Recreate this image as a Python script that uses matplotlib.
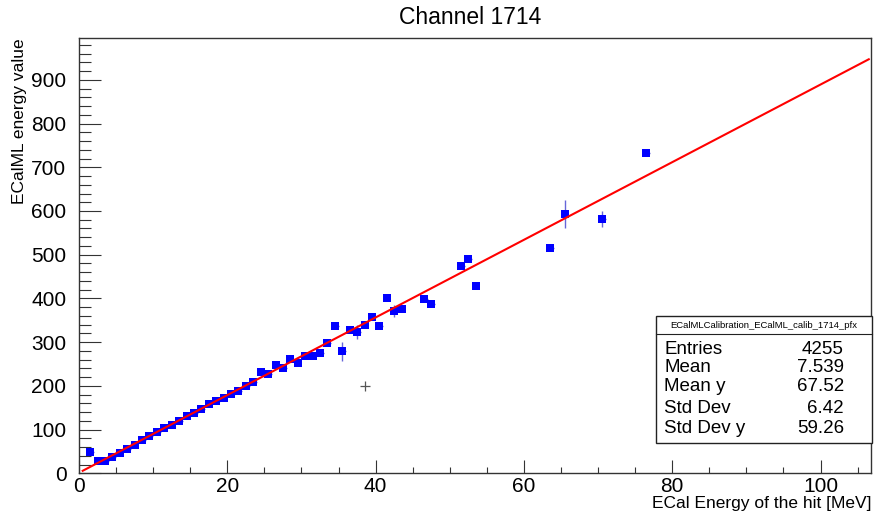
import matplotlib.pyplot as plt
import numpy as np
from matplotlib.patches import Rectangle
from matplotlib.ticker import MultipleLocator

plt.rcParams['font.family'] = ['Liberation Sans', 'DejaVu Sans']

# Profile bin centres, mean y and error on the mean
bin_x = [1.5, 2.5, 3.5, 4.5, 5.5, 6.5, 7.5, 8.5, 9.5, 10.5, 11.5, 12.5, 13.5,
         14.5, 15.5, 16.5, 17.5, 18.5, 19.5, 20.5, 21.5, 22.5, 23.5, 24.5,
         25.5, 26.5, 27.5, 28.5, 29.5, 30.5, 31.5, 32.5, 33.5, 34.5, 35.5,
         36.5, 37.5, 38.5, 39.5, 40.5, 41.5, 42.5, 43.5, 46.5, 47.5, 51.5,
         52.5, 53.5, 63.5, 65.5, 70.5, 76.5]
mean_y = [48.7, 27.5, 28.8, 38.0, 47.1, 55.6, 64.8, 76.2, 85.4, 94.5, 104.3,
          110.5, 119.7, 130.4, 136.8, 147.1, 157.9, 165.4, 171.6, 181.0, 189.0,
          200.5, 208.5, 231.1, 227.2, 247.1, 240.3, 260.9, 253.1, 267.7, 267.7,
          274.6, 297.5, 335.9, 279.2, 327.5, 323.3, 338.7, 357.7, 337.1, 400.5,
          371.4, 376.0, 398.9, 388.1, 474.4, 491.1, 428.6, 516.0, 594.0, 582.0,
          733.6]
err_y = [2.0, 1.5, 1.5, 1.5, 1.5, 1.5, 1.5, 1.5, 1.5, 1.5, 1.5, 1.5, 1.5,
         1.5, 1.5, 2.0, 2.0, 2.0, 2.0, 2.0, 2.0, 2.0, 2.5, 3.0, 3.0, 3.0, 3.0,
         3.5, 3.5, 4.0, 4.0, 4.0, 4.5, 4.5, 21.7, 5.0, 17.0, 5.0, 5.0, 5.0,
         5.0, 14.0, 5.0, 5.0, 5.0, 5.0, 5.0, 5.0, 5.0, 32.0, 18.0, 5.0]
bin_half_width = 0.5

# Linear fit y = p0 + p1 * x
fit_p0 = 1.3
fit_p1 = 8.88
fit_range = [0.5, 106.5]

# Lone marker
cross_x = 38.5
cross_y = 200

stat_names = ['Entries', 'Mean', 'Mean y', 'Std Dev', 'Std Dev y']
stat_values = ['4255', '7.539', '67.52', '6.42', '59.26']
hist_name = 'ECalMLCalibration_ECalML_calib_1714_pfx'

W, H = 874, 514
fig = plt.figure(figsize=(W / 100, H / 100), dpi=100)
ax = fig.add_axes([79 / W, 1 - 473.3 / H, (871 - 79) / W, (473.3 - 38.3) / H])

ax.errorbar(bin_x, mean_y, yerr=err_y, xerr=bin_half_width, fmt='none',
            ecolor=(0.4, 0.4, 0.85), elinewidth=1.0, capsize=0, zorder=2)
ax.plot(bin_x, mean_y, 's', color='#0000ff', markersize=5.2, mew=0, zorder=3)

fx = np.linspace(fit_range[0], fit_range[1], 200)
ax.plot(fx, fit_p0 + fit_p1 * fx, color='#ff0000', lw=1.5, zorder=4)

ax.plot(cross_x, cross_y, '+', color='#555555', markersize=7, mew=0.9, zorder=3)

ax.set_xlim(0, 106.8)
ax.set_ylim(0, 995)
ax.xaxis.set_major_locator(MultipleLocator(20))
ax.xaxis.set_minor_locator(MultipleLocator(5))
ax.yaxis.set_major_locator(MultipleLocator(100))
ax.yaxis.set_minor_locator(MultipleLocator(20))
ax.tick_params(which='both', direction='in', top=False, right=False,
               labelsize=15, width=0.8, color='#333333')
ax.tick_params(axis='y', which='major', length=15.5, pad=9)
ax.tick_params(axis='y', which='minor', length=8.5)
ax.tick_params(axis='x', which='major', length=9.5, pad=3)
ax.tick_params(axis='x', which='minor', length=4.5)
for s in ax.spines.values():
    s.set_linewidth(1.0)
    s.set_color('#333333')

fig.text(470 / W, 1 - 17 / H, 'Channel 1714', ha='center', va='center',
         fontsize=16.5)
fig.text(872 / W, 1 - 508 / H, 'ECal Energy of the hit [MeV]', ha='right',
         va='baseline', fontsize=12.5)
fig.text(20 / W, 1 - 38.3 / H, 'ECalML energy value', ha='center', va='top',
         rotation=90, fontsize=12.5)

# Statistics box
bl, br, bt, bb = 655.7, 872, 316, 442.7
fig.patches.append(Rectangle((bl / W, 1 - bb / H), (br - bl) / W, (bb - bt) / H,
                             transform=fig.transFigure, facecolor='white',
                             edgecolor='#222222', lw=1.0, zorder=10))
fig.add_artist(plt.Line2D([bl / W, br / W], [1 - 334.3 / H] * 2,
                          transform=fig.transFigure, color='#222222', lw=0.8,
                          zorder=11))
fig.text((bl + br) / 2 / W, 1 - 325.3 / H, hist_name, ha='center',
         va='center', fontsize=6.8, zorder=12)
row_base = [354, 371.5, 390.7, 413, 433]
for name, val, yy in zip(stat_names, stat_values, row_base):
    fig.text(664 / W, 1 - yy / H, name, ha='left', va='baseline', fontsize=13.5,
             zorder=12)
    fig.text(844 / W, 1 - yy / H, val, ha='right', va='baseline', fontsize=13.5,
             zorder=12)

fig.savefig('out.png', dpi=100)
